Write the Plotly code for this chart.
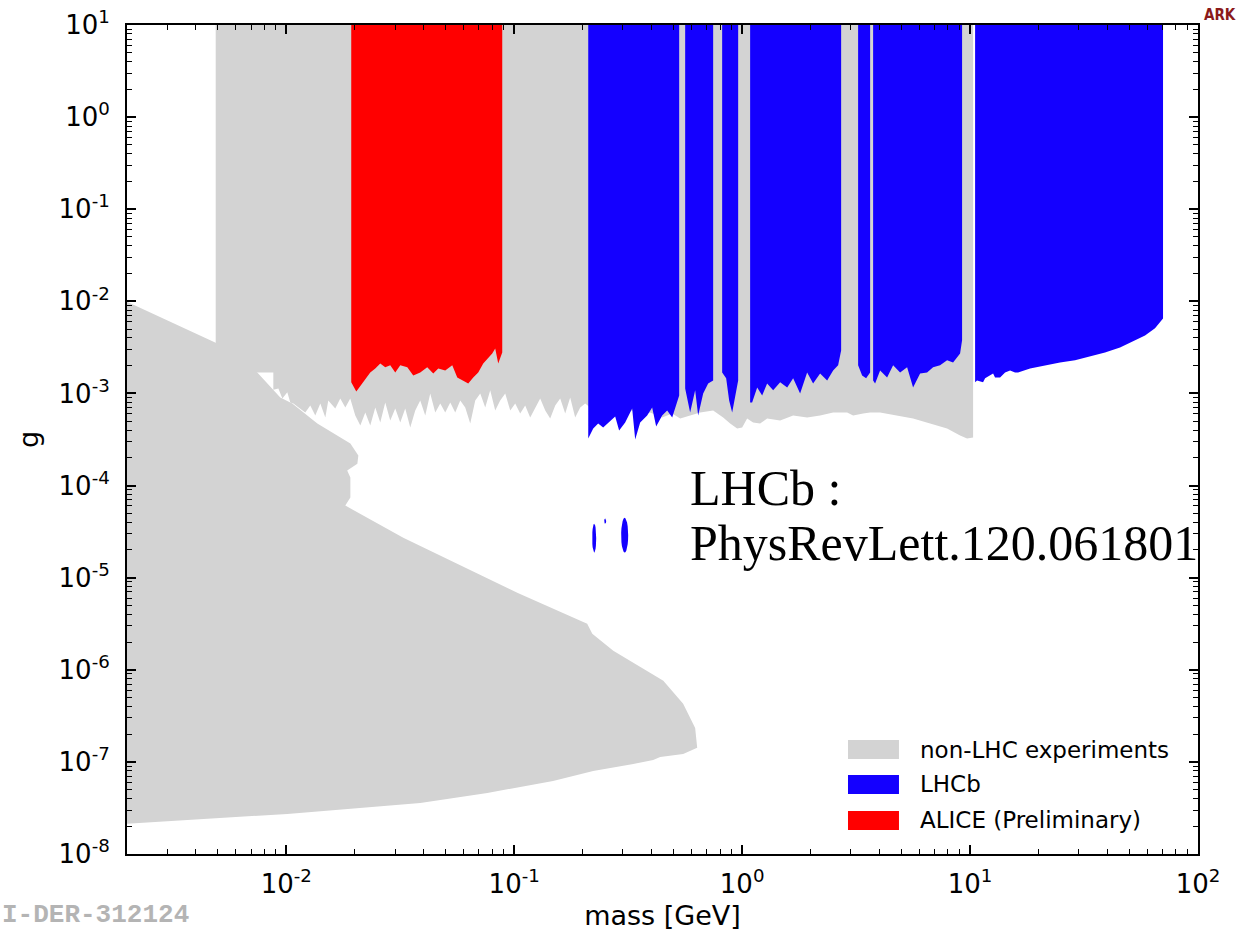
import math
import numpy as np
import plotly.graph_objects as go

# ---------------------------------------------------------------------------
# Exclusion limits on the dark-photon coupling g versus mass [GeV]
# ---------------------------------------------------------------------------
G_TOP = 10.0  # upper end of the plotted coupling range

# non-LHC experiments, beam-dump region (closed outline)
beam_dump_mass = [0.0019, 0.00498, 0.00746, 0.00941, 0.01062, 0.01368, 0.0191,
                  0.0207, 0.0205, 0.0185, 0.0191, 0.0191, 0.01815, 0.0326, 0.1031,
                  0.209, 0.220, 0.272, 0.451, 0.551, 0.622, 0.635, 0.551, 0.437,
                  0.407, 0.333, 0.222, 0.148, 0.0762, 0.0387, 0.0101, 0.0019]
beam_dump_g = [1.05e-2, 3.49e-3, 1.69e-3, 9.06e-4, 7.78e-4, 4.72e-4, 2.86e-4,
               2.12e-4, 1.73e-4, 1.46e-4, 1.22e-4, 7.41e-5, 6.06e-5, 2.72e-5, 6.87e-6,
               3.16e-6, 2.46e-6, 1.61e-6, 7.59e-7, 4.27e-7, 2.34e-7, 1.42e-7, 1.22e-7, 1.13e-7,
               1.05e-7, 9.51e-8, 7.98e-8, 6.21e-8, 4.60e-8, 3.58e-8, 2.72e-8, 2.12e-8]

# non-LHC experiments, collider/fixed-target band: lower edge (upper edge at G_TOP)
band_mass = [0.0049, 0.00877, 0.00877, 0.00923, 0.00961, 0.0101, 0.01041, 0.01074,
             0.01152, 0.01211, 0.01274, 0.0134, 0.0141, 0.01483, 0.01528, 0.0164,
             0.01725, 0.01815, 0.01908, 0.02007, 0.02112, 0.02221, 0.02335, 0.02457,
             0.02584, 0.02717, 0.02858, 0.03006, 0.03162, 0.03325, 0.03498, 0.03679,
             0.03869, 0.0407, 0.04281, 0.04503, 0.04736, 0.04981, 0.0524, 0.05511,
             0.05796, 0.06096, 0.06412, 0.06744, 0.07094, 0.07461, 0.07846, 0.08252,
             0.08679, 0.09131, 0.09605, 0.1010, 0.1062, 0.1117, 0.1175, 0.1236,
             0.1300, 0.1368, 0.1438, 0.1513, 0.1591, 0.1674, 0.1760, 0.1851,
             0.1948, 0.2048, 0.2154, 0.2382, 0.2637, 0.2916, 0.3292, 0.3569,
             0.3948, 0.4457, 0.4932, 0.5346, 0.5913, 0.6543, 0.7460, 0.8254,
             0.8859, 0.9508, 1.0, 1.0517, 1.117, 1.199, 1.287, 1.468, 1.674,
             1.928, 2.198, 2.507, 2.887, 3.068, 3.394, 3.643, 4.030, 4.784,
             5.623, 6.677, 7.928, 9.040, 9.701, 10.31]
band_g = [1.69e-3, 1.69e-3, 1.10e-3, 1.13e-3, 8.83e-4, 1.03e-3, 7.98e-4, 7.78e-4,
          6.87e-4, 6.21e-4, 7.41e-4, 5.77e-4, 7.78e-4, 5.48e-4, 8.40e-4, 6.87e-4,
          8.83e-4, 7.05e-4, 8.83e-4, 5.77e-4, 4.49e-4, 6.21e-4, 4.49e-4, 7.05e-4,
          4.84e-4, 7.98e-4, 5.09e-4, 6.87e-4, 4.84e-4, 6.87e-4, 4.27e-4, 6.53e-4,
          8.40e-4, 5.77e-4, 1.00e-3, 6.21e-4, 7.78e-4, 6.21e-4, 7.98e-4, 6.21e-4,
          8.40e-4, 7.05e-4, 4.72e-4, 8.40e-4, 1.00e-3, 7.05e-4, 1.08e-3, 6.53e-4,
          8.40e-4, 1.00e-3, 6.53e-4, 7.78e-4, 6.06e-4, 7.41e-4, 5.48e-4, 7.05e-4,
          8.83e-4, 6.53e-4, 5.35e-4, 7.41e-4, 8.83e-4, 6.06e-4, 9.06e-4, 5.48e-4,
          7.05e-4, 7.78e-4, 7.05e-4, 6.21e-4, 6.87e-4, 6.06e-4, 6.53e-4, 5.77e-4,
          6.21e-4, 5.48e-4, 6.06e-4, 5.35e-4, 5.77e-4, 6.21e-4, 6.53e-4, 5.48e-4,
          4.72e-4, 4.17e-4, 4.27e-4, 5.35e-4, 4.84e-4, 4.72e-4, 5.35e-4, 5.09e-4, 5.77e-4,
          5.48e-4, 5.77e-4, 6.21e-4, 6.21e-4, 5.77e-4, 6.06e-4, 6.21e-4, 6.21e-4, 5.77e-4,
          5.35e-4, 4.72e-4, 4.17e-4, 3.49e-4, 3.24e-4, 3.32e-4]

# ALICE (preliminary): lower edge of the excluded region
alice_mass = [0.01927, 0.02028, 0.02176, 0.02335, 0.02457, 0.02584, 0.02717, 0.02858,
              0.03006, 0.03162, 0.03395, 0.03606, 0.03869, 0.04153, 0.04413, 0.04642,
              0.04981, 0.05347, 0.05623, 0.05974, 0.06284, 0.06609, 0.06951, 0.07312,
              0.0769, 0.08006, 0.08252, 0.08506, 0.08859]
alice_g = [1.32e-3, 1.05e-3, 1.32e-3, 1.69e-3, 1.87e-3, 2.12e-3, 1.92e-3, 2.02e-3,
           1.69e-3, 2.02e-3, 1.92e-3, 1.57e-3, 1.69e-3, 1.92e-3, 1.65e-3, 1.87e-3,
           1.78e-3, 2.02e-3, 1.49e-3, 1.38e-3, 1.28e-3, 1.49e-3, 1.69e-3, 2.12e-3,
           2.40e-3, 2.72e-3, 3.08e-3, 2.12e-3, 2.79e-3]

# LHCb prompt-search exclusion: lower edges of the mass windows between vetoes
lhcb_mass = [
    [0.2112, 0.2221, 0.2335, 0.2456, 0.2637, 0.2773, 0.2886, 0.3067, 0.3292, 0.3394,
     0.3569, 0.3830, 0.4029, 0.4195, 0.4457, 0.4689, 0.4932, 0.5188, 0.5293],
    [0.5623, 0.5913, 0.6220, 0.6412, 0.6745, 0.7093, 0.7460],
    [0.8171, 0.8507, 0.8770, 0.9040, 0.9317, 0.9605],
    [1.084, 1.106, 1.164, 1.224, 1.287, 1.368, 1.468, 1.576, 1.674, 1.796, 1.928,
     2.048, 2.198, 2.360, 2.507, 2.637, 2.718],
    [3.227, 3.360, 3.499, 3.643],
    [3.755, 3.831, 4.030, 4.325, 4.596, 4.932, 5.294, 5.623, 6.036, 6.478, 6.882,
     7.386, 7.928, 8.421, 9.040, 9.224],
    [10.52, 10.73, 11.40, 11.64, 12.62, 12.87, 13.54, 14.24, 14.98, 15.75, 16.24,
     18.33, 21.33, 24.81, 28.88, 33.60, 39.09, 45.49, 52.93, 58.56, 64.78, 70.24],
]
lhcb_g = [
    [3.24e-4, 4.17e-4, 4.72e-4, 4.27e-4, 5.09e-4, 5.62e-4, 3.96e-4, 4.84e-4, 6.87e-4, 3.16e-4,
     4.84e-4, 5.77e-4, 7.05e-4, 4.38e-4, 5.77e-4, 6.53e-4, 5.48e-4, 7.98e-4, 9.51e-4],
    [1.13e-3, 6.21e-4, 1.08e-3, 5.77e-4, 1.00e-3, 1.28e-3, 1.38e-3],
    [1.69e-3, 1.46e-3, 8.40e-4, 6.21e-4, 9.51e-4, 1.38e-3],
    [7.98e-4, 7.98e-4, 1.16e-3, 9.51e-4, 1.28e-3, 1.08e-3, 1.32e-3, 1.16e-3, 1.46e-3, 1.00e-3, 1.69e-3,
     1.28e-3, 1.65e-3, 1.38e-3, 1.78e-3, 2.02e-3, 2.93e-3],
    [2.02e-3, 1.57e-3, 1.46e-3, 1.69e-3],
    [1.38e-3, 1.28e-3, 1.78e-3, 1.49e-3, 2.02e-3, 1.69e-3, 1.92e-3, 1.16e-3, 1.65e-3, 1.69e-3, 1.92e-3,
     2.02e-3, 2.29e-3, 2.17e-3, 2.72e-3, 3.77e-3],
    [1.32e-3, 1.38e-3, 1.32e-3, 1.46e-3, 1.65e-3, 1.49e-3, 1.49e-3, 1.69e-3, 1.78e-3, 1.69e-3, 1.69e-3,
     1.87e-3, 2.02e-3, 2.17e-3, 2.29e-3, 2.52e-3, 2.79e-3, 3.16e-3, 3.77e-3, 4.27e-3, 5.09e-3, 6.53e-3],
]

# LHCb displaced-search islands: mass and coupling extents
island_m_lo = [0.2198, 0.2481, 0.2945]
island_m_hi = [0.2289, 0.2532, 0.3162]
island_g_lo = [1.87e-5, 3.86e-5, 1.87e-5]
island_g_hi = [3.86e-5, 4.38e-5, 4.47e-5]

x_tick_vals = [0.01, 0.1, 1, 10, 100]
x_tick_text = ["10<sup>-2</sup>", "10<sup>-1</sup>", "10<sup>0</sup>", "10<sup>1</sup>", "10<sup>2</sup>"]
y_tick_vals = [1e-8, 1e-7, 1e-6, 1e-5, 1e-4, 1e-3, 1e-2, 1e-1, 1, 10]
y_tick_text = ["10<sup>-8</sup>", "10<sup>-7</sup>", "10<sup>-6</sup>", "10<sup>-5</sup>",
               "10<sup>-4</sup>", "10<sup>-3</sup>", "10<sup>-2</sup>", "10<sup>-1</sup>",
               "10<sup>0</sup>", "10<sup>1</sup>"]

legend_labels = ["non-LHC experiments", "LHCb", "ALICE (Preliminary)"]

GRAY = "#d3d3d3"
BLUE = "#1400ff"
RED = "#ff0000"
legend_colors = [GRAY, BLUE, RED]
FONT = "DejaVu Sans"


def hanging_region(ms, gs, top=G_TOP):
    """Close a lower-edge curve up to the top of the plot."""
    return [ms[0]] + list(ms) + [ms[-1]], [top] + list(gs) + [top]


def join(parts):
    xs, ys = [], []
    for px, py in parts:
        if xs:
            xs.append(None)
            ys.append(None)
        xs += list(px)
        ys += list(py)
    return xs, ys


def island(m_lo, m_hi, g_lo, g_hi, n=24):
    """Elliptical island spanning the given extents in log-log space."""
    cx, rx = (math.log10(m_lo) + math.log10(m_hi)) / 2, (math.log10(m_hi) - math.log10(m_lo)) / 2
    cy, ry = (math.log10(g_lo) + math.log10(g_hi)) / 2, (math.log10(g_hi) - math.log10(g_lo)) / 2
    t = np.linspace(0, 2 * np.pi, n)
    return list(10 ** (cx + rx * np.cos(t))), list(10 ** (cy + ry * np.sin(t)))


def area(x, y, color, name):
    return go.Scatter(x=x, y=y, mode="lines", fill="toself", fillcolor=color,
                      line=dict(width=0, color=color), name=name, showlegend=False,
                      hoverinfo="skip")


band_x, band_y = hanging_region(band_mass, band_g)
blue_parts = [hanging_region(m, g) for m, g in zip(lhcb_mass, lhcb_g)]
blue_parts += [island(a, b, c, d) for a, b, c, d in zip(island_m_lo, island_m_hi, island_g_lo, island_g_hi)]
blue_x, blue_y = join(blue_parts)
red_x, red_y = hanging_region(alice_mass, alice_g)

fig = go.Figure()
# the two non-LHC regions overlap, so they are separate traces (no even-odd holes)
fig.add_trace(area(beam_dump_mass, beam_dump_g, GRAY, "non-LHC experiments"))
fig.add_trace(area(band_x, band_y, GRAY, "non-LHC experiments"))
fig.add_trace(area(blue_x, blue_y, BLUE, "LHCb"))
fig.add_trace(area(red_x, red_y, RED, "ALICE (Preliminary)"))

axis_common = dict(
    type="log", showline=True, linecolor="black", linewidth=2, mirror="allticks",
    ticks="inside", ticklen=9, tickwidth=1.5, tickcolor="black", showgrid=False,
    zeroline=False, automargin=False,
    tickfont=dict(family=FONT, size=26, color="black"),
    minor=dict(ticks="inside", ticklen=5, tickwidth=1, tickcolor="black", dtick="D1",
               showgrid=False),
)

fig.update_xaxes(range=[math.log10(0.002), 2], tickvals=x_tick_vals, ticktext=x_tick_text,
                 ticklabelstandoff=6,
                 title=dict(text="mass [GeV]", font=dict(family=FONT, size=27, color="black"),
                            standoff=8),
                 **axis_common)
fig.update_yaxes(range=[-8, 1], tickvals=y_tick_vals, ticktext=y_tick_text,
                 ticklabelstandoff=10,
                 title=dict(text="g", font=dict(family=FONT, size=27, color="black"),
                            standoff=12),
                 **axis_common)

# legend box in the lower right corner of the axes
sw_x0, sw_x1, txt_x = 0.6732, 0.7208, 0.7386
row_top = [0.1375, 0.0953, 0.0519]
row_h = 0.0229
for label, color, top in zip(legend_labels, legend_colors, row_top):
    fig.add_shape(type="rect", xref="paper", yref="paper", x0=sw_x0, x1=sw_x1,
                  y0=top - row_h, y1=top, fillcolor=color, line=dict(width=0), layer="above")
    fig.add_annotation(text=label, xref="paper", yref="paper", x=txt_x, y=top - row_h / 2,
                       xanchor="left", yanchor="middle", showarrow=False,
                       font=dict(family=FONT, size=23, color="black"))

fig.add_annotation(text="LHCb :", xref="paper", yref="paper", x=0.5238, y=0.442,
                   xanchor="left", yanchor="middle", showarrow=False,
                   font=dict(family="Liberation Serif", size=50, color="black"))
fig.add_annotation(text="PhysRevLett.120.061801", xref="paper", yref="paper", x=0.5238,
                   y=0.3757, xanchor="left", yanchor="middle", showarrow=False,
                   font=dict(family="Liberation Serif", size=50, color="black"))
fig.add_annotation(text="<b>I-DER-312124</b>", xref="paper", yref="paper", x=-0.1186,
                   y=-0.0736, xanchor="left", yanchor="middle", showarrow=False,
                   font=dict(family="Liberation Mono", size=26, color="#b4b4b4"))
fig.add_annotation(text="<b>ARK</b>", xref="paper", yref="paper", x=1.021, y=1.012,
                   xanchor="center", yanchor="middle", showarrow=False,
                   font=dict(family="DejaVu Sans Condensed", size=15, color="#8b1a1a"))

fig.update_layout(
    width=1240, height=937,
    margin=dict(l=127, r=42, t=25, b=83),
    plot_bgcolor="white", paper_bgcolor="white",
    showlegend=False,
)

fig.write_html("out.html")
